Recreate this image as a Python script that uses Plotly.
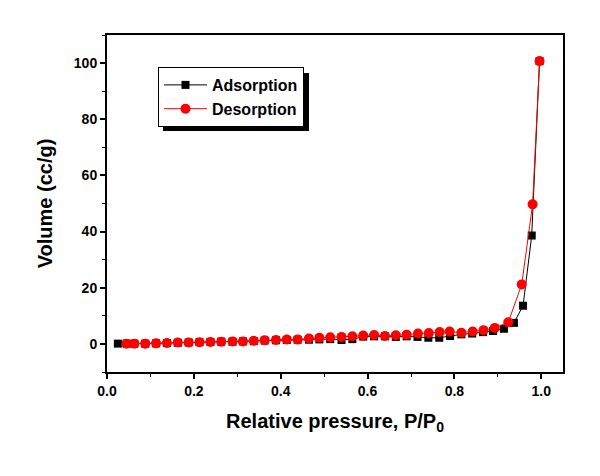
import plotly.graph_objects as go

ads_x = [0.025, 0.045, 0.063, 0.088, 0.113, 0.138, 0.163, 0.188, 0.213, 0.238, 0.263,
         0.289, 0.313, 0.338, 0.363, 0.389, 0.414, 0.439, 0.465, 0.489, 0.514, 0.540,
         0.565, 0.590, 0.615, 0.640, 0.665, 0.690, 0.715, 0.740, 0.765, 0.790, 0.816,
         0.841, 0.866, 0.889, 0.914, 0.937, 0.958, 0.978, 0.996]
ads_y = [0.1, 0.1, 0.1, 0.1, 0.2, 0.3, 0.4, 0.5, 0.6, 0.7, 0.8,
         0.8, 0.9, 1.0, 1.2, 1.3, 1.4, 1.5, 1.5, 1.6, 1.7, 1.4,
         1.7, 2.6, 2.7, 2.7, 2.5, 2.7, 2.5, 2.2, 2.2, 2.8, 3.4,
         3.7, 4.2, 4.6, 5.4, 7.5, 13.6, 38.6, 100.7]

des_x = [0.045, 0.063, 0.088, 0.113, 0.138, 0.163, 0.188, 0.213, 0.238, 0.263, 0.289,
         0.313, 0.338, 0.363, 0.389, 0.414, 0.439, 0.465, 0.489, 0.514, 0.540, 0.565,
         0.590, 0.615, 0.640, 0.665, 0.690, 0.716, 0.741, 0.766, 0.789, 0.816, 0.842,
         0.867, 0.893, 0.924, 0.955, 0.980, 0.996]
des_y = [0.1, 0.1, 0.1, 0.2, 0.35, 0.5, 0.5, 0.6, 0.7, 0.8, 0.9,
         0.9, 1.1, 1.3, 1.4, 1.6, 1.6, 1.9, 2.2, 2.4, 2.5, 2.7,
         3.0, 3.2, 2.8, 3.1, 3.3, 3.7, 3.9, 4.2, 4.4, 4.0, 4.4,
         4.9, 5.7, 7.7, 21.2, 49.7, 100.7]

FONT = "Liberation Sans, Arial, sans-serif"

fig = go.Figure()
fig.add_trace(go.Scatter(x=ads_x, y=ads_y, mode="lines+markers", name="Adsorption",
                         line=dict(color="black", width=1),
                         marker=dict(symbol="square", size=8, color="black")))
fig.add_trace(go.Scatter(x=des_x, y=des_y, mode="lines+markers", name="Desorption",
                         line=dict(color="red", width=1),
                         marker=dict(symbol="circle", size=10, color="red")))

# page body has an 8px margin; compensate so the plot area lands at
# screen x 107..563, y 35..372
OFF = 8
SCR_L, SCR_R, SCR_T, SCR_B = 107, 563, 35, 372
W, H = 600 - OFF, 476 - OFF
L, T = SCR_L - OFF, SCR_T - OFF
R, B = 600 - SCR_R, 476 - SCR_B
pw, ph = SCR_R - SCR_L, SCR_B - SCR_T

def px(x):
    return (x - SCR_L) / pw

def py(y):
    return (SCR_B - y) / ph

fig.add_shape(type="rect", xref="paper", yref="paper",
              x0=px(163), x1=px(309), y0=py(131), y1=py(73),
              fillcolor="black", line=dict(width=0), layer="above")

axis_common = dict(showline=True, linecolor="black", linewidth=2, mirror=True,
                   ticks="outside", ticklen=5, tickwidth=2, tickcolor="black",
                   showgrid=False, zeroline=False, automargin=False,
                   tickfont=dict(family=FONT, size=14, color="black", weight="bold"))

fig.update_layout(
    width=W, height=H,
    margin=dict(l=L, r=R, t=T, b=B, autoexpand=False),
    paper_bgcolor="white", plot_bgcolor="white",
    showlegend=True,
    legend=dict(x=px(158), y=py(67), xanchor="left", yanchor="top",
                bgcolor="white", bordercolor="black", borderwidth=1,
                font=dict(family=FONT, size=16, color="black", weight="bold"),
                tracegroupgap=0, itemwidth=43),
    xaxis=dict(range=[0, 1.05], dtick=0.2, tick0=0, tickformat=".1f",
               minor=dict(dtick=0.1, ticks="outside", ticklen=3, tickwidth=1, tickcolor="black"),
               title=dict(text="Relative pressure, P/P<sub>0</sub>", standoff=16,
                          font=dict(family=FONT, size=20, color="black", weight="bold")),
               **axis_common),
    yaxis=dict(range=[-10, 110], dtick=20, tick0=0,
               minor=dict(dtick=10, ticks="outside", ticklen=3, tickwidth=1, tickcolor="black"),
               title=dict(text="Volume (cc/g)", standoff=16,
                          font=dict(family=FONT, size=20, color="black", weight="bold")),
               **axis_common),
)

fig.write_html("out.html")
